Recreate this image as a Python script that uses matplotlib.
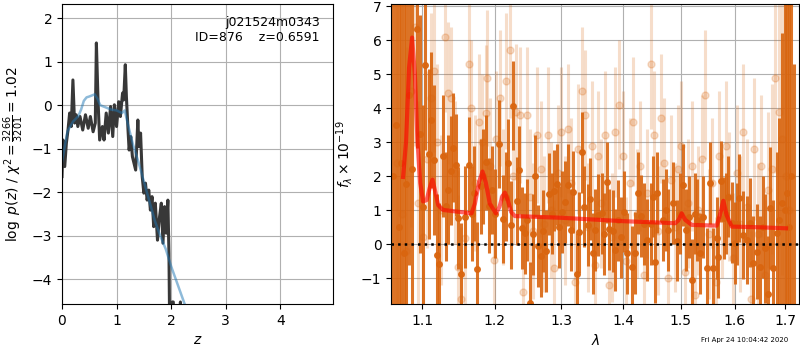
import numpy as np
import matplotlib
matplotlib.use('Agg')
import matplotlib.pyplot as plt
from matplotlib.ticker import FixedLocator, NullLocator, FormatStrFormatter

# left panel: redshift probability
z_grid = [0.00, 0.02, 0.05, 0.08, 0.11, 0.14, 0.17, 0.20, 0.23, 0.26, 0.29, 0.33,
          0.38, 0.43, 0.48, 0.52, 0.57, 0.61, 0.63, 0.66, 0.69, 0.74, 0.77, 0.81,
          0.85, 0.89, 0.93, 0.96, 1.00, 1.04, 1.07, 1.11, 1.13, 1.16, 1.18, 1.21,
          1.23, 1.26, 1.29, 1.35, 1.39, 1.41, 1.44, 1.47, 1.50, 1.53, 1.56, 1.59,
          1.62, 1.65, 1.68, 1.71, 1.75, 1.78, 1.82, 1.85, 1.88, 1.91, 1.94, 1.96,
          1.98, 2.00, 2.02, 2.04, 2.06, 2.15, 2.17, 2.19]
logpz = [-1.64, -0.80, -1.41, -0.87, -0.57, -0.18, -0.49, 0.58, -0.41, -0.22, -0.49, -0.26,
         -0.57, -0.22, -0.53, -0.26, -0.61, -0.41, 1.43, 0.12, -0.80, -0.49, -0.80, -0.18,
         -0.64, -0.03, -0.72, 0.01, -0.49, 0.08, -0.26, 0.28, 0.12, 0.93, 0.20, -0.57,
         -1.03, -0.72, -1.18, -1.49, -0.34, -0.95, -0.64, -1.64, -2.02, -1.79, -2.18, -1.95,
         -2.41, -2.10, -2.79, -2.25, -3.10, -2.64, -2.25, -3.17, -2.33, -2.94, -2.18, -3.40,
         -6.0, -6.0, -4.52, -4.52, -6.0, -6.0, -4.52, -6.0]

z_prior = [0.00, 0.05, 0.10, 0.20, 0.30, 0.35, 0.40, 0.45, 0.50, 0.60, 0.65, 0.70,
           0.80, 0.90, 1.00, 1.05, 1.10, 1.15, 1.20, 1.30, 1.40, 1.50, 1.60, 1.70,
           1.80, 1.90, 2.00, 2.10, 2.20, 2.30]
logp_prior = [-1.30, -0.95, -0.60, -0.38, -0.25, -0.10, 0.10, 0.18, 0.20, 0.25, 0.15, 0.00,
              -0.05, -0.10, -0.12, -0.15, -0.18, -0.12, -0.40, -0.90, -1.30, -1.75, -2.20, -2.65,
              -3.00, -3.30, -3.70, -4.05, -4.40, -4.75]

# right panel: spectrum, first orientation
wave_a = [1.0625, 1.0660, 1.0700, 1.0731, 1.0761, 1.0787, 1.0830, 1.0874, 1.0934, 1.0970,
          1.1013, 1.1040, 1.1085, 1.1115, 1.1160, 1.1192, 1.1227, 1.1273, 1.1317, 1.1350,
          1.1382, 1.1417, 1.1450, 1.1486, 1.1523, 1.1578, 1.1634, 1.1680, 1.1710, 1.1751,
          1.1800, 1.1840, 1.1874, 1.1917, 1.1960, 1.2010, 1.2061, 1.2115, 1.2160, 1.2196,
          1.2231, 1.2270, 1.2320, 1.2358, 1.2400, 1.2443, 1.2477, 1.2518, 1.2558, 1.2593,
          1.2643, 1.2680, 1.2719, 1.2760, 1.2811, 1.2850, 1.2888, 1.2925, 1.2966, 1.3010,
          1.3055, 1.3107, 1.3149, 1.3186, 1.3240, 1.3281, 1.3329, 1.3361, 1.3415, 1.3453,
          1.3496, 1.3538, 1.3587, 1.3643, 1.3685, 1.3725, 1.3768, 1.3824, 1.3862, 1.3907,
          1.3960, 1.4013, 1.4068, 1.4143, 1.4199, 1.4255, 1.4301, 1.4350, 1.4400, 1.4469,
          1.4510, 1.4544, 1.4584, 1.4689, 1.4730, 1.4778, 1.4856, 1.4928, 1.4980, 1.5036,
          1.5095, 1.5150, 1.5199, 1.5250, 1.5290, 1.5351, 1.5412, 1.5486, 1.5536, 1.5597,
          1.5661, 1.5691, 1.5742, 1.5799, 1.5840, 1.5881, 1.5946, 1.6009, 1.6050, 1.6092,
          1.6158, 1.6235, 1.6300, 1.6364, 1.6431, 1.6497, 1.6550, 1.6596, 1.6662, 1.6696,
          1.6762, 1.6831, 1.6880, 1.6940, 1.6990, 1.7047, 1.7085, 1.7130, 1.7180]
flux_a = [2.0, 3.5, 0.5, 2.39, -0.27, 1.78, 4.4, 2.21, 6.32, 3.24,
          1.11, 5.26, 2.65, 3.65, 2.48, -0.32, -0.59, 2.60, 1.12, 1.6,
          2.16, 2.84, 2.32, 0.77, -0.86, 0.81, 2.34, 0.9, 1.5, -0.74,
          1.7, 2.0, 2.41, 1.14, 1.6, 0.9, 2.95, 0.74, 1.4, 2.39,
          0.56, 4.08, 1.27, 2.19, 0.48, 0.32, 0.72, -1.72, 0.29, 2.01,
          -0.05, -0.35, 0.40, -0.19, 1.48, 0.9, 1.58, 1.76, 0.50, 0.95,
          1.25, 1.75, 0.42, 1.53, -0.86, 0.35, 2.70, 1.11, 0.57, 1.33,
          -0.27, 0.42, 0.86, 0.91, 0.3, 1.82, 0.44, 0.40, -0.17, 0.70,
          0.2, 0.96, -0.27, -0.66, -0.25, 1.50, 0.83, 0.6, 0.13, 0.60,
          1.40, -0.53, 1.52, 0.72, 1.0, 0.42, 1.21, 0.11, 0.9, 1.75,
          0.42, 0.8, -1.05, 0.9, 0.72, -0.27, 0.81, -0.71, 1.80, -0.71,
          0.18, -0.37, 1.85, 0.77, 0.9, 1.40, 0.64, 0.03, 0.6, 1.36,
          0.27, 0.13, 0.64, -0.56, -0.22, -0.66, 0.5, -0.12, -1.47, 1.06,
          -0.71, 0.32, 0.7, 1.2, 1.0, 1.50, 0.5, 2.0, -3.0]
err_a = [9.0, 9.0, 8.0, 7.0, 7.5, 6.0, 5.0, 5.0, 3.5, 3.5,
         3.0, 2.5, 2.5, 2.0, 2.2, 1.8, 1.8, 1.8, 1.6, 1.6,
         1.6, 1.6, 1.5, 1.5, 1.5, 1.5, 1.4, 1.4, 1.4, 1.4,
         1.4, 1.4, 1.4, 1.4, 1.3, 1.3, 1.3, 1.3, 1.3, 1.3,
         1.3, 1.3, 1.3, 1.3, 1.2, 1.2, 1.2, 1.2, 1.2, 1.2,
         1.2, 1.2, 1.2, 1.2, 1.2, 1.2, 1.2, 1.2, 1.2, 1.2,
         1.2, 1.2, 1.2, 1.2, 1.2, 1.2, 1.2, 1.2, 1.2, 1.2,
         1.2, 1.2, 1.2, 1.2, 1.2, 1.2, 1.2, 1.2, 1.2, 1.2,
         1.2, 1.2, 1.2, 1.2, 1.2, 1.2, 1.2, 1.2, 1.2, 1.2,
         1.2, 1.2, 1.2, 1.2, 1.2, 1.2, 1.2, 1.2, 1.2, 1.2,
         1.2, 1.2, 1.2, 1.2, 1.2, 1.2, 1.2, 1.2, 1.2, 1.2,
         1.2, 1.2, 1.2, 1.2, 1.2, 1.2, 1.2, 1.2, 1.2, 1.3,
         1.3, 1.3, 1.3, 1.4, 1.4, 1.5, 1.5, 1.6, 1.7, 1.8,
         2.0, 2.4, 3.0, 5.0, 8.0, 9.0, 9.0, 9.0, 8.3]

# second orientation (faint)
wave_b = [1.0680, 1.0735, 1.0790, 1.0850, 1.0913, 1.0950, 1.1010, 1.1060, 1.1115, 1.1160,
          1.1200, 1.1250, 1.1300, 1.1350, 1.1390, 1.1440, 1.1480, 1.1530, 1.1580, 1.1630,
          1.1670, 1.1720, 1.1770, 1.1820, 1.1870, 1.1890, 1.1940, 1.1990, 1.2020, 1.2080,
          1.2120, 1.2170, 1.2220, 1.2260, 1.2310, 1.2370, 1.2420, 1.2470, 1.2520, 1.2570,
          1.2620, 1.2680, 1.2730, 1.2790, 1.2840, 1.2890, 1.2940, 1.3000, 1.3050, 1.3100,
          1.3150, 1.3210, 1.3260, 1.3320, 1.3370, 1.3420, 1.3480, 1.3530, 1.3590, 1.3640,
          1.3700, 1.3760, 1.3810, 1.3870, 1.3930, 1.3990, 1.4050, 1.4110, 1.4170, 1.4230,
          1.4290, 1.4350, 1.4410, 1.4470, 1.4530, 1.4590, 1.4650, 1.4710, 1.4770, 1.4830,
          1.4890, 1.4950, 1.5010, 1.5070, 1.5140, 1.5200, 1.5260, 1.5320, 1.5390, 1.5450,
          1.5510, 1.5580, 1.5640, 1.5710, 1.5770, 1.5840, 1.5900, 1.5970, 1.6040, 1.6100,
          1.6170, 1.6240, 1.6310, 1.6380, 1.6450, 1.6520, 1.6590, 1.6660, 1.6730, 1.6800,
          1.6870, 1.6940, 1.7010, 1.7080]
flux_b = [2.4, 0.9, -0.2, 4.5, 6.4, 1.2, 0.2, 2.5, 4.3, 5.1,
          3.0, 1.0, 6.1, 4.45, 4.3, 2.1, -0.66, -1.6, 0.18, 5.3,
          4.0, 1.8, 3.6, 3.0, 3.85, 4.9, 2.3, -0.46, 3.1, 4.3,
          1.4, 4.8, 5.7, 2.0, 3.9, 3.8, -1.4, 3.8, 1.4, 0.4,
          3.2, 2.2, 0.6, 3.2, 1.0, -0.7, 2.1, 3.3, 0.7, 3.4,
          1.8, -1.1, 2.8, 4.5, 3.8, 0.5, 2.9, -0.6, 2.6, 1.2,
          3.2, -1.2, 0.2, 3.3, 4.1, 2.6, -0.5, 1.8, 3.6, 0.9,
          2.3, -0.9, 1.5, 5.3, 3.2, 0.4, 3.7, 2.4, -1.0, 1.9,
          0.5, 2.2, 2.9, -0.8, 1.2, 2.3, -1.5, 1.0, 2.5, 4.4,
          0.3, 1.8, -1.1, 2.6, 0.9, 2.9, 1.4, -0.4, 2.1, 0.6,
          3.3, 1.1, -1.6, 2.8, 0.3, 2.3, -0.9, 1.6, 2.2, 4.9,
          3.9, 3.1, 2.0, 1.0]
err_b = [9.0, 8.0, 6.0, 4.0, 3.5, 3.0, 2.8, 2.6, 2.5, 2.4,
         2.3, 2.2, 2.2, 2.1, 2.1, 2.1, 2.1, 2.1, 2.0, 2.0,
         2.0, 2.0, 2.0, 2.0, 2.0, 2.0, 2.0, 2.0, 2.0, 2.0,
         2.0, 2.0, 2.0, 2.0, 2.0, 2.0, 2.0, 2.0, 2.0, 2.0,
         2.0, 2.0, 2.0, 2.0, 2.0, 2.0, 2.0, 1.9, 1.9, 1.9,
         1.9, 1.9, 1.9, 1.9, 1.9, 1.9, 1.9, 1.9, 1.9, 1.9,
         1.9, 1.9, 1.9, 1.9, 1.9, 1.9, 1.9, 1.9, 1.9, 1.9,
         1.9, 1.9, 1.9, 1.9, 1.9, 1.9, 1.9, 1.9, 1.9, 1.9,
         1.9, 1.9, 1.9, 1.9, 1.9, 1.9, 1.9, 1.9, 1.9, 1.9,
         1.9, 1.9, 1.9, 1.9, 1.9, 1.9, 1.9, 1.9, 2.0, 2.0,
         2.0, 2.0, 2.0, 2.1, 2.1, 2.1, 2.2, 2.3, 2.5, 2.8,
         3.2, 4.0, 6.0, 8.0]

# best-fit model
wave_model = [1.0752, 1.0790, 1.0830, 1.0869, 1.0905, 1.0940, 1.0975, 1.1013, 1.1060, 1.1100,
              1.1138, 1.1175, 1.1215, 1.1280, 1.1672, 1.1720, 1.1780, 1.1827, 1.1875, 1.1930,
              1.2018, 1.2070, 1.2110, 1.2148, 1.2190, 1.2240, 1.2295, 1.3000, 1.4000, 1.4900,
              1.4956, 1.5018, 1.5080, 1.5199, 1.5662, 1.5720, 1.5786, 1.5850, 1.5946, 1.6500,
              1.7020]
flux_model = [1.98, 3.00, 5.20, 6.08, 5.00, 3.00, 1.80, 1.26, 1.30, 1.65,
              1.90, 1.55, 1.15, 1.01, 0.91, 1.20, 1.85, 2.14, 1.80, 1.20,
              0.91, 1.10, 1.40, 1.52, 1.30, 0.95, 0.83, 0.78, 0.68, 0.62,
              0.70, 0.91, 0.72, 0.57, 0.55, 0.85, 1.28, 0.85, 0.52, 0.50,
              0.47]

orange = '#d9650f'

fig = plt.figure(figsize=(8, 3.5), dpi=100)
ax1 = fig.add_axes([0.0775, 0.131, 0.339, 0.857])
ax2 = fig.add_axes([0.489, 0.131, 0.510, 0.857])

ax1.plot(z_grid, logpz, color='0.22', lw=2.2)
ax1.plot(z_prior, logp_prior, color='C0', alpha=0.5, lw=1.8)
ax1.set_xlim(0, 4.97)
ax1.set_ylim(-4.57, 2.32)
ax1.set_xticks([0, 1, 2, 3, 4])
ax1.set_yticks([-4, -3, -2, -1, 0, 1, 2])
ax1.grid()
ax1.set_xlabel(r'$z$')
ax1.set_ylabel(r'$\log\ p(z)$' + ' / ' + r'$\chi^2=\frac{3266}{3201}=1.02$')
ax1.text(0.95, 0.96, 'j021524m0343\nID=876    z=0.6591', transform=ax1.transAxes,
         ha='right', va='top', fontsize=9)

ax2.errorbar(wave_b, flux_b, yerr=err_b, marker='o', ms=5, linestyle='none',
             color=orange, alpha=0.22, elinewidth=2.2)
ax2.errorbar(wave_a, flux_a, yerr=err_a, marker='o', ms=4, linestyle='none',
             color=orange, alpha=0.9, elinewidth=2.2)
ax2.plot(wave_model, flux_model, color='r', alpha=0.6, lw=3, zorder=5)
ax2.axhline(0, color='k', linestyle=':', lw=1.8, zorder=6)

ax2.set_xscale('log')
ax2.set_xlim(1.06, 1.729)
ax2.set_ylim(-1.76, 7.06)
ax2.xaxis.set_major_locator(FixedLocator([1.1, 1.2, 1.3, 1.4, 1.5, 1.6, 1.7]))
ax2.xaxis.set_major_formatter(FormatStrFormatter('%.1f'))
ax2.xaxis.set_minor_locator(NullLocator())
ax2.set_yticks([-1, 0, 1, 2, 3, 4, 5, 6, 7])
ax2.grid()
ax2.set_xlabel(r'$\lambda$')
ax2.set_ylabel(r'$f_\lambda\times10^{-19}$')

fig.text(0.985, 0.028, 'Fri Apr 24 10:04:42 2020', ha='right', va='center', fontsize=5)

fig.savefig('out.png', dpi=100)
